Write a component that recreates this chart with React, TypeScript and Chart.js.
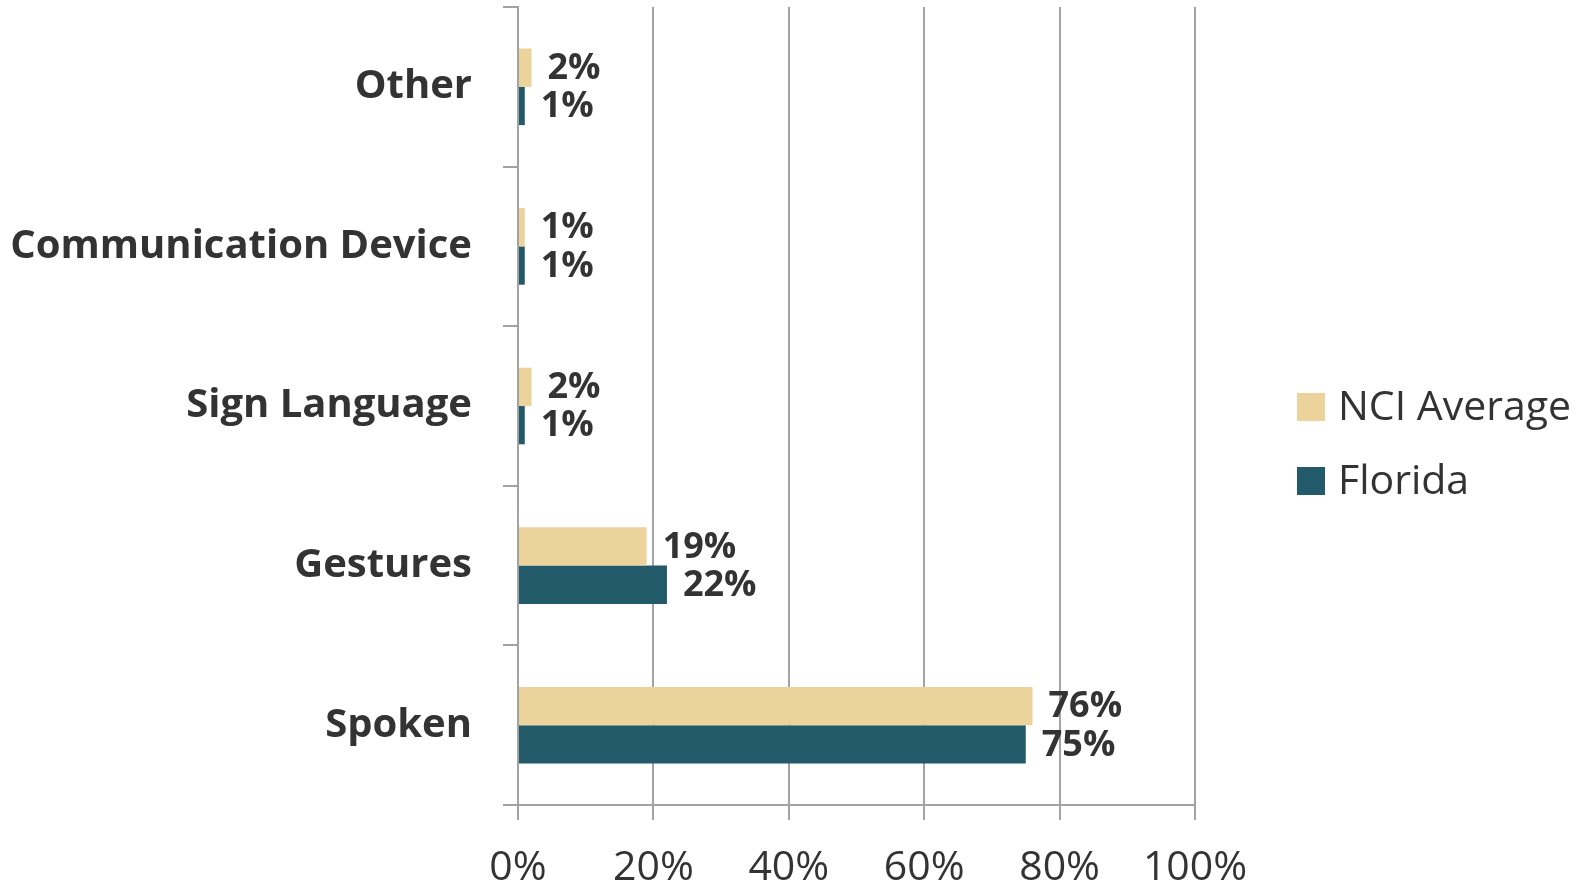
import React, { useEffect, useRef } from "react";
import { Chart, registerables } from "chart.js";

Chart.register(...registerables);

const categories = ["Other", "Communication Device", "Sign Language", "Gestures", "Spoken"];
const nciAverage = [2, 1, 2, 19, 76];
const florida = [1, 1, 1, 22, 75];
const seriesNames = ["NCI Average", "Florida"];
const seriesColors = ["#ECD29B", "#225A69"];
const xTicks = [0, 20, 40, 60, 80, 100];

const FONT = "'Open Sans', 'DejaVu Sans', sans-serif";
const TEXT = "#333333";
const GRID = "#a3a3a3";

const dataLabels = {
  id: "dataLabels",
  afterDatasetsDraw(chart: any) {
    const ctx = chart.ctx;
    ctx.save();
    ctx.font = `bold 36px ${FONT}`;
    ctx.fillStyle = TEXT;
    ctx.textAlign = "left";
    ctx.textBaseline = "middle";
    chart.data.datasets.forEach((ds: any, di: number) => {
      const meta = chart.getDatasetMeta(di);
      meta.data.forEach((el: any, i: number) => {
        ctx.fillText(ds.data[i] + "%", el.x + 16, el.y + 1);
      });
    });
    ctx.restore();
  },
};

const customLegend = {
  id: "customLegend",
  afterDraw(chart: any) {
    const ctx = chart.ctx;
    const left = chart.chartArea.right + 102;
    const centers = [407, 481];
    ctx.save();
    ctx.font = `41px ${FONT}`;
    ctx.textAlign = "left";
    ctx.textBaseline = "middle";
    chart.data.datasets.forEach((ds: any, i: number) => {
      const cy = centers[i];
      ctx.fillStyle = ds.backgroundColor;
      ctx.fillRect(left, cy - 14, 28, 28);
      ctx.fillStyle = TEXT;
      ctx.fillText(ds.label, left + 41, cy + 1);
    });
    ctx.restore();
  },
};

export default function App() {
  const ref = useRef<HTMLCanvasElement | null>(null);

  useEffect(() => {
    document.body.style.margin = "0";
    if (!ref.current) return;
    Chart.defaults.font.family = FONT;
    const chart = new Chart(ref.current, {
      type: "bar",
      data: {
        labels: categories,
        datasets: [
          { label: seriesNames[0], data: nciAverage, backgroundColor: seriesColors[0] },
          { label: seriesNames[1], data: florida, backgroundColor: seriesColors[1] },
        ],
      },
      options: {
        indexAxis: "y",
        animation: false,
        responsive: true,
        maintainAspectRatio: false,
        categoryPercentage: 0.48,
        barPercentage: 1,
        layout: { padding: { top: 7, right: 396, left: 0, bottom: 0 } },
        plugins: {
          legend: { display: false },
          tooltip: { enabled: false },
        },
        scales: {
          x: {
            min: 0,
            max: 100,
            afterBuildTicks: (s: any) => {
              s.ticks = xTicks.map((v) => ({ value: v }));
            },
            afterFit: (s: any) => {
              s.height = 83;
            },
            ticks: {
              callback: (v: any) => v + "%",
              color: TEXT,
              font: { size: 41 },
              padding: 24,
            },
            grid: { color: GRID, lineWidth: 2, tickLength: 15 },
            border: { color: GRID, width: 2 },
          },
          y: {
            afterFit: (s: any) => {
              s.width = 518;
              s.paddingTop = 0;
              s.paddingBottom = 0;
            },
            ticks: {
              color: TEXT,
              font: { size: 40, weight: "bold" },
              padding: 31,
            },
            grid: {
              offset: true,
              drawOnChartArea: false,
              color: GRID,
              lineWidth: 2,
              tickLength: 15,
            },
            border: { color: GRID, width: 2 },
          },
        },
      },
      plugins: [dataLabels, customLegend],
    });
    return () => chart.destroy();
  }, []);

  return (
    <div style={{ width: 1591, height: 888, position: "relative" }}>
      <canvas ref={ref} />
    </div>
  );
}
